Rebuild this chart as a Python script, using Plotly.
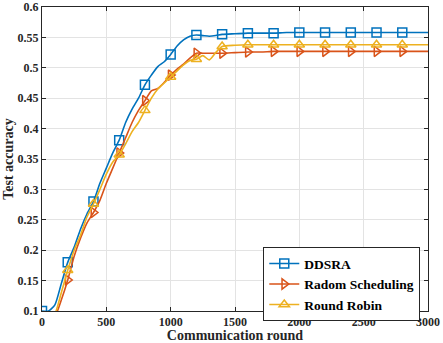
import plotly.graph_objects as go

rounds = [0, 50, 100, 150, 200, 250, 300, 350, 400, 450, 500, 550, 600, 650, 700, 750,
          800, 850, 900, 950, 1000, 1050, 1100, 1150, 1200, 1250, 1300, 1350, 1400, 1500,
          1600, 1700, 1800, 1900, 2000, 2200, 2400, 2600, 2800, 3000]

ddsra = [0.100, 0.100, 0.110, 0.145, 0.180, 0.205, 0.235, 0.260, 0.280, 0.310, 0.335, 0.360,
         0.381, 0.410, 0.432, 0.450, 0.472, 0.488, 0.502, 0.510, 0.522, 0.536, 0.546, 0.552,
         0.554, 0.553, 0.552, 0.553, 0.555, 0.556, 0.557, 0.557, 0.557, 0.558, 0.558, 0.558,
         0.558, 0.558, 0.558, 0.558]

radom = [0.070, 0.080, 0.090, 0.118, 0.151, 0.190, 0.220, 0.245, 0.262, 0.282, 0.310, 0.335,
         0.360, 0.385, 0.410, 0.430, 0.446, 0.462, 0.466, 0.476, 0.488, 0.498, 0.506, 0.516,
         0.524, 0.524, 0.524, 0.524, 0.524, 0.525, 0.526, 0.526, 0.527, 0.527, 0.527, 0.527,
         0.527, 0.527, 0.527, 0.527]

robin = [0.075, 0.085, 0.095, 0.130, 0.167, 0.200, 0.225, 0.255, 0.276, 0.300, 0.325, 0.345,
         0.357, 0.375, 0.395, 0.410, 0.430, 0.450, 0.465, 0.475, 0.485, 0.495, 0.505, 0.512,
         0.514, 0.520, 0.513, 0.525, 0.535, 0.537, 0.538, 0.538, 0.538, 0.538, 0.538, 0.538,
         0.538, 0.538, 0.538, 0.538]

marker_rounds = [0, 200, 400, 600, 800, 1000, 1200, 1400, 1600, 1800, 2000, 2200, 2400, 2600, 2800]

names = ["DDSRA", "Radom Scheduling", "Round Robin"]
colors = ["#0072BD", "#D95319", "#EDB120"]
symbols = ["square-open", "triangle-right-open", "triangle-up-open"]
series = [ddsra, radom, robin]

x_ticks = [0, 500, 1000, 1500, 2000, 2500, 3000]
y_ticks = [0.1, 0.15, 0.2, 0.25, 0.3, 0.35, 0.4, 0.45, 0.5, 0.55, 0.6]
y_tick_labels = ["0.1", "0.15", "0.2", "0.25", "0.3", "0.35", "0.4", "0.45", "0.5", "0.55", "0.6"]

fig = go.Figure()
for name, col, sym, vals in zip(names, colors, symbols, series):
    fig.add_trace(go.Scatter(x=rounds, y=vals, mode="lines",
                             line=dict(color=col, width=1.6, shape="spline", smoothing=0.6),
                             showlegend=False, hoverinfo="skip"))
    mx = [r for r in rounds if r in marker_rounds]
    my = [v for r, v in zip(rounds, vals) if r in marker_rounds]
    fig.add_trace(go.Scatter(x=mx, y=my, mode="markers", cliponaxis=True,
                             marker=dict(symbol=sym, size=9, color=col, line=dict(width=1.5, color=col)),
                             showlegend=False))
for name, col, sym in zip(names, colors, symbols):
    fig.add_trace(go.Scatter(x=[None], y=[None], mode="lines+markers", name=f"<b>{name}</b>",
                             line=dict(color=col, width=1.6),
                             marker=dict(symbol=sym, size=9, color=col, line=dict(width=1.5, color=col))))

font_family = "Liberation Serif"
axis_common = dict(showgrid=True, gridcolor="#E3E3E3", gridwidth=1, zeroline=False,
                   showline=True, linecolor="#262626", linewidth=1, mirror="ticks",
                   ticks="inside", ticklen=4, tickcolor="#262626", automargin=False,
                   tickfont=dict(family=font_family, size=12, color="#262626"))
fig.update_layout(
    width=443, height=343,
    margin=dict(l=42, r=15, t=7, b=32),
    paper_bgcolor="white", plot_bgcolor="white",
    font=dict(family=font_family, size=12, color="#262626"),
    xaxis=dict(range=[0, 3000], tickvals=x_ticks, ticktext=[f"<b>{v}</b>" for v in x_ticks],
               title=dict(text="<b>Communication round</b>",
                          font=dict(size=14, family=font_family, color="#262626"), standoff=0),
               **axis_common),
    yaxis=dict(range=[0.1, 0.6], tickvals=y_ticks, ticktext=[f"<b>{t}</b>" for t in y_tick_labels],
               title=dict(text="<b>Test accuracy</b>",
                          font=dict(size=14, family=font_family, color="#262626"), standoff=0),
               **axis_common),
    legend=dict(x=0.98, y=0.21, xanchor="right", yanchor="top",
                bgcolor="white", bordercolor="#262626", borderwidth=1,
                font=dict(family=font_family, size=13.5, color="#000000"),
                tracegroupgap=0, itemwidth=30),
)

fig.write_html("out.html", config={"displayModeBar": False},
               post_script="document.body.style.margin='0';")
